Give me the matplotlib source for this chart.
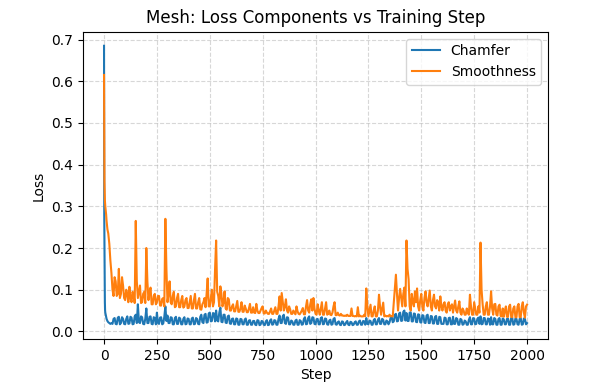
import numpy as np
import matplotlib
matplotlib.use("Agg")
import matplotlib.pyplot as plt

# Early steps (dense), regular steps every 10, and in-between steps (x5)
early_steps = [0, 1, 2, 3, 4, 5, 6, 8, 10, 12, 16, 20, 25, 30, 35]
regular_steps = list(range(40, 2001, 10))
mid_steps = list(range(45, 2000, 10))

chamfer_early = [0.685, 0.28, 0.2, 0.12, 0.07, 0.05, 0.045, 0.04, 0.035, 0.03,
                 0.025, 0.022, 0.02, 0.018, 0.02]
smooth_early = [0.615, 0.45, 0.36, 0.33, 0.315, 0.305, 0.3, 0.29, 0.28, 0.265,
                0.245, 0.235, 0.21, 0.17, 0.14]

chamfer_regular = [
    0.018, 0.032, 0.017, 0.035, 0.02, 0.03,
    0.017, 0.036, 0.019, 0.033, 0.018, 0.04, 0.065, 0.02, 0.034, 0.017,
    0.055, 0.02, 0.036, 0.017, 0.032, 0.045, 0.018, 0.034, 0.019, 0.06,
    0.038, 0.02, 0.033, 0.017, 0.035, 0.018, 0.031, 0.017, 0.034, 0.018,
    0.03, 0.017, 0.033, 0.018, 0.03, 0.017, 0.04, 0.02, 0.042, 0.022,
    0.045, 0.025, 0.043, 0.05, 0.024, 0.057, 0.022, 0.04, 0.02, 0.038,
    0.018, 0.031, 0.017, 0.03, 0.016, 0.029, 0.017, 0.031, 0.016, 0.027,
    0.016, 0.025, 0.015, 0.026, 0.016, 0.024, 0.015, 0.027, 0.016, 0.029,
    0.017, 0.026, 0.016, 0.038, 0.02, 0.04, 0.018, 0.033, 0.017, 0.024,
    0.016, 0.028, 0.016, 0.025, 0.017, 0.034, 0.018, 0.036, 0.02, 0.033,
    0.017, 0.03, 0.017, 0.034, 0.018, 0.03, 0.016, 0.028, 0.017, 0.032,
    0.016, 0.024, 0.015, 0.023, 0.016, 0.025, 0.015, 0.022, 0.016, 0.024,
    0.016, 0.026, 0.016, 0.024, 0.032, 0.017, 0.025, 0.016, 0.03, 0.017,
    0.032, 0.018, 0.028, 0.017, 0.024, 0.022, 0.035, 0.024, 0.042, 0.025,
    0.045, 0.026, 0.05, 0.044, 0.025, 0.046, 0.024, 0.042, 0.022, 0.04,
    0.021, 0.038, 0.02, 0.04, 0.02, 0.036, 0.019, 0.037, 0.018, 0.034,
    0.018, 0.033, 0.017, 0.032, 0.017, 0.035, 0.018, 0.03, 0.016, 0.028,
    0.017, 0.024, 0.016, 0.034, 0.017, 0.031, 0.018, 0.033, 0.036, 0.018,
    0.032, 0.017, 0.03, 0.034, 0.017, 0.03, 0.016, 0.032, 0.016, 0.029,
    0.017, 0.031, 0.016, 0.033, 0.017, 0.03, 0.016, 0.032, 0.017, 0.03,
    0.02,
]

chamfer_mid = [
    0.03, 0.018, 0.033, 0.017, 0.034, 0.018,
    0.03, 0.018, 0.035, 0.017, 0.036, 0.02, 0.022, 0.036, 0.018, 0.03,
    0.02, 0.035, 0.018, 0.034, 0.017, 0.02, 0.033, 0.017, 0.035, 0.025,
    0.02, 0.034, 0.017, 0.032, 0.018, 0.033, 0.017, 0.03, 0.017, 0.031,
    0.017, 0.031, 0.017, 0.032, 0.018, 0.035, 0.022, 0.04, 0.021, 0.043,
    0.024, 0.044, 0.024, 0.026, 0.045, 0.023, 0.04, 0.021, 0.036, 0.019,
    0.03, 0.017, 0.031, 0.016, 0.03, 0.017, 0.028, 0.016, 0.026, 0.016,
    0.025, 0.016, 0.027, 0.015, 0.025, 0.016, 0.024, 0.015, 0.026, 0.016,
    0.027, 0.016, 0.03, 0.02, 0.036, 0.02, 0.034, 0.017, 0.026, 0.016,
    0.026, 0.016, 0.027, 0.016, 0.03, 0.017, 0.032, 0.018, 0.034, 0.018,
    0.029, 0.017, 0.032, 0.017, 0.031, 0.017, 0.026, 0.016, 0.03, 0.017,
    0.022, 0.016, 0.024, 0.015, 0.022, 0.016, 0.023, 0.015, 0.022, 0.016,
    0.024, 0.016, 0.025, 0.016, 0.018, 0.026, 0.016, 0.027, 0.017, 0.028,
    0.018, 0.03, 0.017, 0.026, 0.017, 0.033, 0.022, 0.04, 0.024, 0.043,
    0.025, 0.047, 0.026, 0.025, 0.045, 0.024, 0.043, 0.023, 0.041, 0.022,
    0.039, 0.021, 0.038, 0.02, 0.037, 0.019, 0.035, 0.018, 0.035, 0.018,
    0.018, 0.032, 0.017, 0.033, 0.017, 0.018, 0.032, 0.016, 0.03, 0.016,
    0.026, 0.016, 0.028, 0.017, 0.032, 0.017, 0.03, 0.018, 0.017, 0.032,
    0.017, 0.031, 0.016, 0.017, 0.032, 0.016, 0.03, 0.016, 0.031, 0.017,
    0.03, 0.016, 0.032, 0.016, 0.031, 0.017, 0.03, 0.016, 0.031, 0.017,
]

smooth_regular = [
    0.10, 0.13, 0.085, 0.15, 0.09, 0.11,
    0.075, 0.09, 0.107, 0.07, 0.085, 0.265, 0.08, 0.11, 0.07, 0.095,
    0.2, 0.075, 0.105, 0.065, 0.09, 0.07, 0.085, 0.062, 0.08, 0.27,
    0.07, 0.12, 0.065, 0.095, 0.06, 0.09, 0.058, 0.085, 0.06, 0.08,
    0.056, 0.085, 0.055, 0.09, 0.055, 0.08, 0.052, 0.07, 0.058, 0.127,
    0.06, 0.1, 0.07, 0.218, 0.085, 0.108, 0.06, 0.096, 0.052, 0.077,
    0.05, 0.065, 0.048, 0.073, 0.047, 0.07, 0.047, 0.055, 0.046, 0.066,
    0.045, 0.045, 0.066, 0.044, 0.05, 0.06, 0.043, 0.045, 0.042, 0.055,
    0.042, 0.058, 0.042, 0.084, 0.092, 0.05, 0.077, 0.045, 0.053, 0.042,
    0.045, 0.06, 0.042, 0.045, 0.056, 0.041, 0.075, 0.045, 0.077, 0.08,
    0.042, 0.065, 0.04, 0.07, 0.04, 0.07, 0.042, 0.04, 0.045, 0.07,
    0.039, 0.039, 0.042, 0.038, 0.038, 0.04, 0.037, 0.055, 0.037, 0.037,
    0.058, 0.038, 0.036, 0.04, 0.103, 0.036, 0.064, 0.036, 0.06, 0.036,
    0.088, 0.04, 0.069, 0.038, 0.037, 0.04, 0.037, 0.069, 0.136, 0.05,
    0.102, 0.06, 0.105, 0.218, 0.125, 0.05, 0.07, 0.096, 0.103, 0.05,
    0.09, 0.05, 0.096, 0.06, 0.098, 0.05, 0.088, 0.055, 0.07, 0.084,
    0.05, 0.07, 0.045, 0.07, 0.06, 0.045, 0.074, 0.045, 0.072, 0.04,
    0.05, 0.04, 0.045, 0.088, 0.04, 0.07, 0.04, 0.06, 0.213, 0.065,
    0.04, 0.07, 0.04, 0.096, 0.04, 0.066, 0.038, 0.064, 0.036, 0.035,
    0.06, 0.035, 0.064, 0.034, 0.06, 0.034, 0.066, 0.034, 0.07, 0.033,
    0.064,
]

smooth_mid = [
    0.085, 0.12, 0.09, 0.08, 0.13, 0.08,
    0.1, 0.07, 0.08, 0.095, 0.068, 0.12, 0.095, 0.068, 0.09, 0.068,
    0.12, 0.095, 0.065, 0.085, 0.065, 0.085, 0.062, 0.078, 0.06, 0.15,
    0.09, 0.07, 0.085, 0.058, 0.08, 0.058, 0.075, 0.057, 0.075, 0.056,
    0.07, 0.055, 0.075, 0.055, 0.07, 0.053, 0.065, 0.08, 0.09, 0.06,
    0.08, 0.06, 0.15, 0.095, 0.06, 0.09, 0.07, 0.055, 0.08, 0.05,
    0.06, 0.048, 0.06, 0.047, 0.055, 0.047, 0.062, 0.046, 0.055, 0.045,
    0.058, 0.044, 0.05, 0.044, 0.056, 0.043, 0.05, 0.042, 0.048, 0.042,
    0.05, 0.042, 0.06, 0.05, 0.07, 0.06, 0.05, 0.06, 0.042, 0.05,
    0.041, 0.048, 0.041, 0.05, 0.041, 0.06, 0.05, 0.065, 0.05, 0.055,
    0.04, 0.05, 0.055, 0.04, 0.055, 0.04, 0.05, 0.039, 0.06, 0.039,
    0.045, 0.038, 0.038, 0.037, 0.037, 0.037, 0.037, 0.037, 0.036, 0.036,
    0.036, 0.036, 0.036, 0.036, 0.06, 0.05, 0.036, 0.05, 0.036, 0.05,
    0.06, 0.055, 0.036, 0.036, 0.036, 0.036, 0.036, 0.1, 0.09, 0.08,
    0.08, 0.09, 0.06, 0.15, 0.06, 0.09, 0.06, 0.07, 0.06, 0.075,
    0.06, 0.08, 0.07, 0.08, 0.06, 0.075, 0.06, 0.075, 0.05, 0.06,
    0.065, 0.05, 0.065, 0.05, 0.065, 0.06, 0.05, 0.06, 0.045, 0.055,
    0.04, 0.055, 0.04, 0.06, 0.04, 0.055, 0.04, 0.045, 0.1, 0.04,
    0.06, 0.04, 0.06, 0.055, 0.065, 0.04, 0.06, 0.037, 0.055, 0.05,
    0.035, 0.06, 0.035, 0.055, 0.034, 0.06, 0.034, 0.06, 0.045, 0.06,
]

# Merge the step groups into one ordered series per loss component
def merged(early, regular, mid):
    pairs = (list(zip(early_steps, early)) + list(zip(regular_steps, regular))
             + list(zip(mid_steps, mid)))
    pairs.sort(key=lambda p: p[0])
    return [p[0] for p in pairs], [p[1] for p in pairs]

steps_c, chamfer = merged(chamfer_early, chamfer_regular, chamfer_mid)
steps_s, smoothness = merged(smooth_early, smooth_regular, smooth_mid)

fig = plt.figure(figsize=(5.92, 3.88), dpi=100)
ax = fig.add_subplot(111)
fig.subplots_adjust(left=0.140, right=0.926, top=0.918, bottom=0.126)

ax.plot(steps_c, chamfer, color="#1f77b4", linewidth=1.5, label="Chamfer")
ax.plot(steps_s, smoothness, color="#ff7f0e", linewidth=1.5, label="Smoothness")

ax.set_title("Mesh: Loss Components vs Training Step")
ax.set_xlabel("Step")
ax.set_ylabel("Loss")
ax.grid(True, linestyle="--", alpha=0.5)
ax.legend(loc="upper right")

fig.savefig("out.png", dpi=100)
